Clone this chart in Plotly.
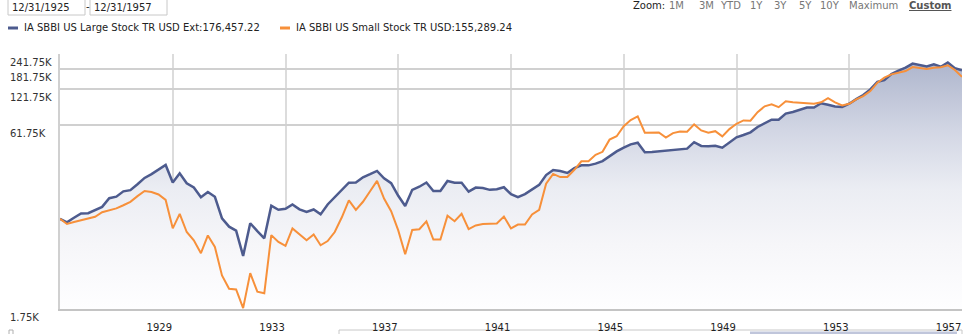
import math
import plotly.graph_objects as go

# Quarter-end dates, Dec 1925 through Dec 1957
quarter_ends = [f"{y}-{md}" for y in range(1926, 1958) for md in ("03-31", "06-30", "09-30", "12-31")]
quarter_ends = ["1925-12-31"] + quarter_ends

# Growth of 10,000 (USD), quarterly
large_stock = [
    10000, 9350, 10200, 11100, 11160, 11900, 12600, 14900, 15350, 17000,
    17400, 19500, 22040, 23700, 25700, 28300, 20180, 24100, 19900, 18300,
    15160, 16800, 15300, 10100, 8590, 7950, 4880, 9180, 7890, 6860,
    12900, 11900, 12140, 13200, 12000, 11400, 11970, 10900, 13200, 15200,
    17670, 20100, 20200, 22300, 23670, 25200, 21900, 19900, 15600, 12800,
    17500, 18600, 20160, 17100, 17100, 20800, 20080, 20100, 16900, 18300,
    18120, 17500, 17700, 18400, 16100, 15200, 16100, 17500, 19270, 23300,
    25700, 25200, 24270, 26600, 28100, 28100, 29060, 30500, 33500, 36800,
    39650, 42200, 43500, 36200, 36450, 37000, 37500, 37800, 38530, 38800,
    44000, 40900, 40650, 41000, 39500, 44000, 48290, 50500, 53200, 59000,
    63600, 68000, 68000, 76500, 78870, 83000, 86000, 86000, 93360, 90500,
    87800, 86800, 92440, 101000, 109500, 122000, 141070, 146000, 164000, 175000,
    185600, 201000, 196000, 190000, 197760, 189000, 205000, 184000, 176457.22,
]
small_stock = [
    10000, 9050, 9400, 9700, 10030, 10400, 11350, 11800, 12240, 13000,
    13900, 15500, 17100, 16800, 16000, 14400, 8320, 11000, 7750, 6600,
    5145, 7250, 5800, 3350, 2585, 2550, 1780, 3500, 2446, 2370,
    7300, 6400, 5940, 8300, 7400, 6600, 7380, 6000, 6500, 7750,
    10300, 14300, 11900, 13900, 17050, 20800, 14800, 11600, 8000, 5040,
    8050, 8170, 9510, 6700, 6700, 10600, 9540, 11000, 8200, 8800,
    9050, 9100, 9150, 10450, 8300, 8950, 8950, 10900, 11900, 19700,
    23800, 22400, 22410, 25800, 30400, 30400, 34450, 36500, 46200, 49300,
    59810, 67500, 72500, 52800, 52860, 53000, 48000, 52400, 54000, 53800,
    62000, 55200, 52800, 54400, 49200, 56600, 62800, 67000, 66600, 78500,
    88000, 91500, 86500, 97000, 95000, 94500, 93200, 92400, 95000, 103000,
    95000, 89400, 92400, 100500, 107000, 118000, 139000, 153000, 163000, 167500,
    174000, 188000, 183500, 181000, 185500, 187000, 194500, 177500, 155289.24,
]

large_name = "IA SBBI US Large Stock TR USD Ext"
small_name = "IA SBBI US Small Stock TR USD"

y_ticks = [1750, 61750, 121750, 181750, 241750]
y_tick_labels = ["1.75K", "61.75K", "121.75K", "181.75K", "241.75K"]
x_ticks = [f"{y}-12-31" for y in (1929, 1933, 1937, 1941, 1945, 1949, 1953, 1957)]
x_tick_labels = ["1929", "1933", "1937", "1941", "1945", "1949", "1953", "1957"]
range_start, range_end = "12/31/1925", "12/31/1957"
zoom_buttons = ["1M", "3M", "YTD", "1Y", "3Y", "5Y", "10Y", "Maximum"]

BLUE = "#4d5b8e"
ORANGE = "#f7903a"
FONT = "DejaVu Sans"

W, H = 975, 334
L, R, T, B = 60, 962, 54, 309


def px(x):
    return (x - L) / (R - L)


def py(y):
    return (B - y) / (B - T)


fig = go.Figure()

# invisible floor for the shaded area
fig.add_trace(go.Scatter(
    x=quarter_ends, y=[y_ticks[0]] * len(quarter_ends), mode="lines",
    line=dict(width=0), hoverinfo="skip", showlegend=False,
))
fig.add_trace(go.Scatter(
    x=quarter_ends, y=large_stock, mode="lines", name=large_name,
    line=dict(color=BLUE, width=2.5), fill="tonexty",
    fillgradient=dict(type="vertical", start=y_ticks[0], stop=y_ticks[-1],
                      colorscale=[[0, "rgb(254,254,255)"], [0.25, "rgb(246,246,249)"],
                                  [0.47, "rgb(235,237,243)"], [0.7, "rgb(210,214,228)"],
                                  [1, "rgb(170,178,202)"]]),
    showlegend=False,
))
fig.add_trace(go.Scatter(
    x=quarter_ends, y=small_stock, mode="lines", name=small_name,
    line=dict(color=ORANGE, width=2), showlegend=False,
))

annotations = []
shapes = []

# y-axis labels, left aligned under their grid lines
for v, lab in zip(y_ticks, y_tick_labels):
    annotations.append(dict(
        x=px(8), xref="paper", y=math.log10(v), yref="y", text=lab,
        xanchor="left", yanchor="top", yshift=-1, showarrow=False,
        font=dict(family=FONT, size=10, color="#333333"),
    ))

# date range boxes
for x0, x1, txt in ((8, 85, range_start), (90, 167, range_end)):
    shapes.append(dict(type="rect", xref="paper", yref="paper",
                       x0=px(x0), x1=px(x1), y0=py(15), y1=py(-1),
                       line=dict(color="#c8c8c8", width=1), fillcolor="white"))
    annotations.append(dict(x=px(x0 + 2), y=py(7.5), xref="paper", yref="paper",
                            text=txt, xanchor="left", yanchor="middle", showarrow=False,
                            font=dict(family=FONT, size=10, color="#222222")))
annotations.append(dict(x=px(87.5), y=py(6), xref="paper", yref="paper", text="-",
                        xanchor="center", yanchor="middle", showarrow=False,
                        font=dict(family=FONT, size=10, color="#222222")))

# legend
for x0, color, name, series in ((8, BLUE, large_name, large_stock),
                                (280, ORANGE, small_name, small_stock)):
    shapes.append(dict(type="line", xref="paper", yref="paper",
                       x0=px(x0), x1=px(x0 + 10), y0=py(28), y1=py(28),
                       line=dict(color=color, width=3)))
    annotations.append(dict(x=px(x0 + 14), y=py(28), xref="paper", yref="paper",
                            text=f"{name}:{series[-1]:,.2f}", xanchor="left",
                            yanchor="middle", showarrow=False,
                            font=dict(family=FONT, size=10, color="#222222")))

# zoom selector
zx = [667, 697, 718, 748, 772, 797, 818, 847]
annotations.append(dict(x=px(667), y=py(5), xref="paper", yref="paper", text="Zoom:",
                        xanchor="right", yanchor="middle", showarrow=False,
                        font=dict(family=FONT, size=10, color="#222222")))
for x0, lab in zip(zx, zoom_buttons):
    annotations.append(dict(x=px(x0), y=py(5), xref="paper", yref="paper", text=lab,
                            xanchor="left", yanchor="middle", showarrow=False,
                            font=dict(family=FONT, size=10, color="#777777")))
annotations.append(dict(x=px(907), y=py(5), xref="paper", yref="paper",
                        text="<b><u>Custom</u></b>", xanchor="left", yanchor="middle",
                        showarrow=False, font=dict(family=FONT, size=10, color="#555555")))

# navigator strip along the bottom edge
shapes.append(dict(type="rect", xref="paper", yref="paper", x0=px(339), x1=px(962),
                   y0=py(336), y1=py(330), line=dict(color="#c8c8c8", width=1),
                   fillcolor="white", layer="below"))
shapes.append(dict(type="rect", xref="paper", yref="paper", x0=px(750), x1=px(957),
                   y0=py(336), y1=py(331.5), line=dict(width=0),
                   fillcolor="rgba(150,160,195,0.6)", layer="below"))
shapes.append(dict(type="rect", xref="paper", yref="paper", x0=px(9), x1=px(13),
                   y0=py(336), y1=py(330), line=dict(color="#b0b0b0", width=1),
                   fillcolor="white", layer="below"))

fig.update_layout(
    width=W, height=H,
    margin=dict(l=L, r=W - R, t=T, b=H - B, pad=0, autoexpand=False),
    paper_bgcolor="white", plot_bgcolor="white",
    showlegend=False,
    annotations=annotations, shapes=shapes,
    font=dict(family=FONT, size=10, color="#222222"),
)
fig.update_xaxes(
    type="date", range=["1925-12-31", "1957-12-31"],
    tickvals=x_ticks, ticktext=x_tick_labels, ticks="",
    ticklabelposition="outside left", ticklabelstandoff=8,
    showgrid=True, gridcolor="#dcdcdc", gridwidth=2,
    showline=True, linecolor="#c4c4c4", linewidth=1.5,
    tickfont=dict(family=FONT, size=10, color="#222222"),
    zeroline=False, fixedrange=True, automargin=False,
)
fig.update_yaxes(
    type="log", range=[math.log10(y_ticks[0]), math.log10(y_ticks[-1])],
    tickvals=y_ticks, showticklabels=False, ticks="",
    showgrid=True, gridcolor="#d0d0d0", gridwidth=1.5,
    showline=True, linecolor="#d0d0d0", linewidth=2,
    zeroline=False, fixedrange=True, automargin=False,
)

fig.write_html("out.html")
